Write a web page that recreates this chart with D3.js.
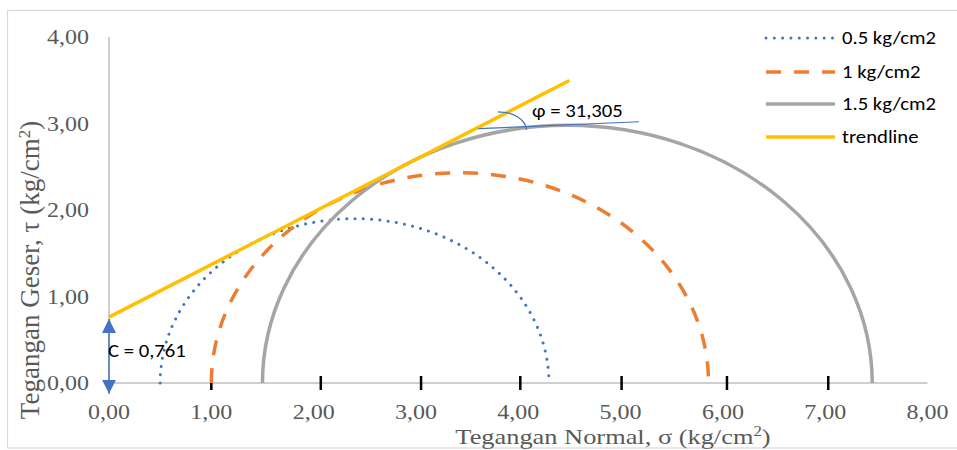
<!DOCTYPE html>
<html>
<head>
<meta charset="utf-8">
<script src="https://cdn.jsdelivr.net/npm/d3@7"></script>
<style>
  body { margin: 0; background: #fff; }
  svg { display: block; }
</style>
</head>
<body>
<div id="chart"></div>
<script>
// Mohr circles: confining stress (sigma3) and major stress (sigma1)
const seriesNames = ["0.5 kg/cm2", "1 kg/cm2", "1.5 kg/cm2"];
const sigma3 = [0.5, 1.0, 1.5];
const sigma1 = [4.30, 5.86, 7.46];
const seriesColors = ["#4472C4", "#ED7D31", "#A5A5A5"];

// failure envelope (trendline)
const trendX = [0, 4.5];
const trendY = [0.761, 3.497];

// hand drawn annotations
const tangentX = [3.61, 5.18];
const tangentY = [2.94, 3.02];
const markX = [1.0, 2.07, 3.05, 4.02, 5.01, 6.04, 7.03];
const cohesion = 0.761;
const phiLabel = "φ = 31,305";
const cLabel = "C = 0,761";

const xTicks = [0, 1, 2, 3, 4, 5, 6, 7, 8];
const yTicks = [0, 1, 2, 3, 4];

const W = 957, H = 450;
const fmt = v => v.toFixed(2).replace(".", ",");
const serif = "'Liberation Serif', 'Times New Roman', serif";
const sans = "Carlito, Lato, sans-serif";
// the original picture is stretched sideways a little
const SX = 1.2, SXS = 1.15;

const svg = d3.select("#chart").append("svg")
  .attr("width", W).attr("height", H);

// chart frame
svg.append("rect")
  .attr("x", 7.5).attr("y", 10.5)
  .attr("width", 960).attr("height", 437.5)
  .attr("fill", "none").attr("stroke", "#D9D9D9").attr("stroke-width", 1.2);

const x = d3.scaleLinear().domain([0, 8]).range([109, 927.5]);
const y = d3.scaleLinear().domain([0, 4]).range([383, 37]);

// axis lines
svg.append("line")
  .attr("x1", x(0)).attr("x2", x(0)).attr("y1", y(4)).attr("y2", y(0))
  .attr("stroke", "#BFBFBF").attr("stroke-width", 1.5);
svg.append("line")
  .attr("x1", x(0)).attr("x2", x(8)).attr("y1", y(0)).attr("y2", y(0))
  .attr("stroke", "#BFBFBF").attr("stroke-width", 1.5);

// tick labels
svg.append("g").selectAll("text")
  .data(xTicks).enter().append("text")
  .attr("transform", d => `translate(${x(d)},${y(0) + 36}) scale(${SX},1)`)
  .attr("text-anchor", "middle")
  .attr("font-family", serif)
  .attr("font-size", "20px").attr("fill", "#595959")
  .text(fmt);

svg.append("g").selectAll("text")
  .data(yTicks).enter().append("text")
  .attr("transform", d => `translate(89,${y(d) + 7}) scale(${SX},1)`)
  .attr("text-anchor", "end")
  .attr("font-family", serif)
  .attr("font-size", "20px").attr("fill", "#595959")
  .text(fmt);

// axis titles
const xt = svg.append("text")
  .attr("transform", `translate(613,444) scale(${SX},1)`)
  .attr("text-anchor", "middle")
  .attr("font-family", serif)
  .attr("font-size", "22px").attr("fill", "#595959");
xt.append("tspan").text("Tegangan Normal, σ (kg/cm");
xt.append("tspan").attr("font-size", "14px").attr("dy", -8).text("2");
xt.append("tspan").attr("dy", 8).text(")");

const yt = svg.append("text")
  .attr("transform", "translate(39,270) rotate(-90)")
  .attr("text-anchor", "middle")
  .attr("font-family", serif)
  .attr("font-size", "27px").attr("fill", "#595959");
yt.append("tspan").text("Tegangan Geser, τ (kg/cm");
yt.append("tspan").attr("font-size", "17px").attr("dy", -9).text("2");
yt.append("tspan").attr("dy", 9).text(")");

// black tick marks drawn on the x axis
svg.append("g").selectAll("line")
  .data(markX).enter().append("line")
  .attr("x1", d => x(d)).attr("x2", d => x(d))
  .attr("y1", y(0) - 7).attr("y2", y(0) + 7)
  .attr("stroke", "#000").attr("stroke-width", 2.5);

// Mohr circles
const dashes = ["0.01 8.3", "15 13", null];
const widths = [3, 3.5, 3.5];
sigma3.forEach((s3, i) => {
  const s1 = sigma1[i];
  const r = (s1 - s3) / 2;
  const rx = x(r) - x(0), ry = y(0) - y(r);
  svg.append("path")
    .attr("d", `M${x(s3)},${y(0)} A${rx},${ry} 0 0 1 ${x(s1)},${y(0)}`)
    .attr("fill", "none")
    .attr("stroke", seriesColors[i])
    .attr("stroke-width", widths[i])
    .attr("stroke-dasharray", dashes[i])
    .attr("stroke-linecap", i === 0 ? "round" : "butt");
});

// trendline
const line = d3.line().x(d => x(d[0])).y(d => y(d[1]));
svg.append("path")
  .attr("d", line(d3.zip(trendX, trendY)))
  .attr("fill", "none").attr("stroke", "#FFC000").attr("stroke-width", 3.5);

// tangent and angle arc
svg.append("path")
  .attr("d", line(d3.zip(tangentX, tangentY)))
  .attr("fill", "none").attr("stroke", "#4472C4").attr("stroke-width", 1.2);
{
  const cx = 3.80, cy = 2.925, ax = 0.28, ay = 0.21;
  const rx = x(ax) - x(0), ry = y(0) - y(ay);
  svg.append("path")
    .attr("d", `M${x(cx)},${y(cy + ay)} A${rx},${ry} 0 0 1 ${x(cx + ax)},${y(cy)}`)
    .attr("fill", "none").attr("stroke", "#4472C4").attr("stroke-width", 1.2);
}
svg.append("text")
  .attr("transform", `translate(${x(4.135)},${y(3.075)}) scale(${SXS},1)`)
  .attr("font-family", sans)
  .attr("font-size", "18px").attr("fill", "#000")
  .text(phiLabel);

// cohesion arrow
const defs = svg.append("defs");
defs.append("marker")
  .attr("id", "tri").attr("viewBox", "0 0 10 10")
  .attr("refX", 10).attr("refY", 5)
  .attr("markerWidth", 14).attr("markerHeight", 16)
  .attr("markerUnits", "userSpaceOnUse")
  .attr("orient", "auto-start-reverse")
  .append("path").attr("d", "M0,0 L10,5 L0,10 Z").attr("fill", "#4472C4");
svg.append("line")
  .attr("x1", x(0)).attr("x2", x(0))
  .attr("y1", y(-0.125)).attr("y2", y(cohesion - 0.02))
  .attr("stroke", "#4472C4").attr("stroke-width", 1.5)
  .attr("marker-start", "url(#tri)").attr("marker-end", "url(#tri)");
svg.append("text")
  .attr("transform", `translate(${x(0) - 1},${y(0.30)}) scale(${SXS},1)`)
  .attr("font-family", sans)
  .attr("font-size", "18px").attr("fill", "#000")
  .text(cLabel);

// legend
const legendItems = seriesNames.concat(["trendline"]);
const legendColors = seriesColors.concat(["#FFC000"]);
const legendDash = dashes.concat([null]);
const legendY = [38, 72, 104, 137];
const lg = svg.append("g");
legendItems.forEach((name, i) => {
  lg.append("line")
    .attr("x1", 766).attr("x2", 835)
    .attr("y1", legendY[i]).attr("y2", legendY[i])
    .attr("stroke", legendColors[i])
    .attr("stroke-width", i === 0 ? 3 : 3.5)
    .attr("stroke-dasharray", legendDash[i])
    .attr("stroke-linecap", i === 0 ? "round" : "butt");
  lg.append("text")
    .attr("transform", `translate(842,${legendY[i] + 6}) scale(${SXS},1)`)
    .attr("font-family", sans)
    .attr("font-size", "18px").attr("fill", "#000")
    .text(name);
});
</script>
</body>
</html>
